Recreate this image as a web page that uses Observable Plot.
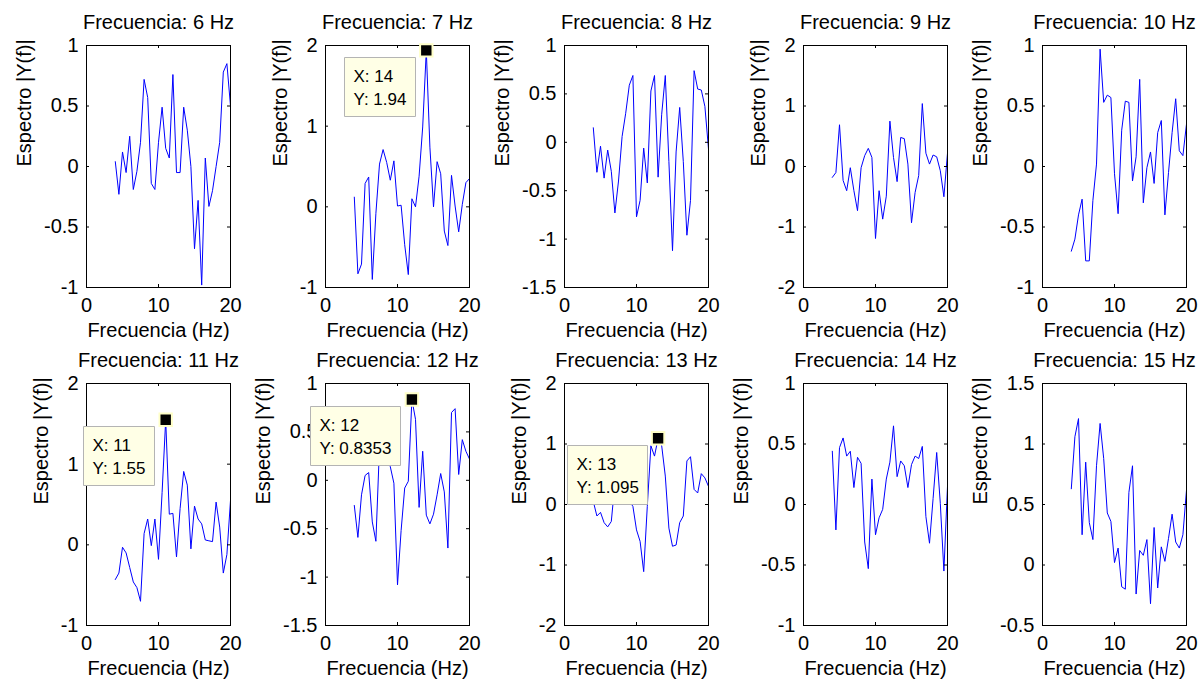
<!DOCTYPE html>
<html><head><meta charset="utf-8">
<script src="https://cdn.jsdelivr.net/npm/d3@7"></script>
<script src="https://cdn.jsdelivr.net/npm/@observablehq/plot@0.6"></script>
<style>
html,body{margin:0;padding:0;background:#fff;}
#fig{position:relative;width:1203px;height:680px;background:#fff;overflow:hidden;}
#fig svg{position:absolute;}
</style></head><body><div id="fig"></div>
<script>
// ---- data ----
const freqs = [4,4.5,5,5.5,6,6.5,7,7.5,8,8.5,9,9.5,10,10.5,11,11.5,12,12.5,13,13.5,14,14.5,15,15.5,16,16.5,17,17.5,18,18.5,19,19.5,20];
const panelHz = [6,7,8,9,10,11,12,13,14,15];
const s6  = [0.04,-0.23,0.12,-0.05,0.25,-0.19,-0.04,0.2,0.72,0.57,-0.14,-0.19,0.2,0.49,0.15,0.07,0.76,-0.05,-0.05,0.49,0.3,0.0,-0.68,-0.28,-0.98,0.07,-0.33,-0.2,0.0,0.2,0.78,0.85,0.5];
const s7  = [0.12,-0.83,-0.71,0.29,0.37,-0.9,-0.08,0.53,0.71,0.55,0.33,0.57,0.01,0.02,-0.47,-0.84,0.1,0.0,0.38,0.99,1.94,0.74,0.0,0.56,0.41,-0.3,-0.48,0.39,0.01,-0.31,0.03,0.3,0.35];
const s8  = [0.15,-0.31,-0.04,-0.37,-0.08,-0.3,-0.73,-0.4,0.06,0.3,0.59,0.69,-0.77,-0.6,-0.06,-0.42,0.53,0.69,-0.36,0.29,0.69,-0.2,-1.12,-0.1,0.36,-0.2,-0.96,-0.6,0.74,0.55,0.54,0.37,-0.07];
const s9  = [-0.18,-0.1,0.69,-0.23,-0.4,-0.02,-0.4,-0.73,-0.02,0.18,0.3,0.15,-1.19,-0.4,-0.87,-0.49,0.75,0.15,-0.25,0.48,0.46,0.04,-0.93,-0.43,-0.15,1.04,0.22,0.04,0.19,0.16,-0.07,-0.5,0.22];
const s10 = [-0.7,-0.6,-0.4,-0.27,-0.78,-0.78,-0.28,0.02,0.97,0.53,0.59,0.57,-0.06,-0.39,0.3,0.54,0.53,-0.12,0.08,0.72,-0.3,-0.01,0.12,-0.14,0.28,0.38,-0.4,-0.05,0.28,0.56,0.13,0.09,0.35];
const s11 = [-0.43,-0.35,-0.03,-0.1,-0.28,-0.46,-0.53,-0.7,0.14,0.32,-0.01,0.32,-0.18,0.65,1.55,0.38,0.39,-0.15,0.45,0.91,0.74,-0.05,0.48,0.32,0.26,0.06,0.05,0.04,0.53,0.22,-0.35,-0.12,0.55];
const s12 = [-0.26,-0.59,-0.15,0.05,0.08,-0.43,-0.63,0.35,0.6,0.3,0.14,-0.03,-1.08,-0.52,-0.08,-0.01,0.8353,0.63,-0.28,0.3,-0.36,-0.45,-0.35,-0.15,0.07,-0.12,-0.7,0.7,0.74,0.06,0.42,0.3,0.22];
const s13 = [0.05,-0.19,-0.13,-0.3,-0.37,-0.28,0.35,0.1,0.5,0.25,0.05,-0.03,-0.42,-0.61,-1.11,-0.03,0.97,0.8,1.095,0.97,0.47,-0.39,-0.69,-0.67,-0.3,-0.19,0.72,0.79,0.25,0.19,0.51,0.44,0.3];
const s14 = [0.44,-0.21,0.47,0.55,0.4,0.44,0.14,0.39,0.34,-0.31,-0.53,0.21,-0.25,-0.11,-0.04,0.21,0.35,0.65,0.23,0.36,0.32,0.14,0.33,0.4,0.38,0.48,-0.1,-0.32,0.05,0.43,0.01,-0.55,0.15];
const s15 = [0.63,1.06,1.21,0.25,0.85,0.35,0.21,0.82,1.17,0.88,0.43,0.36,0.02,0.14,-0.18,-0.2,0.6,0.82,-0.24,0.12,0.08,0.21,-0.32,0.31,-0.19,0.15,0.03,0.22,0.42,0.19,0.14,0.25,0.62];
const series = [s6,s7,s8,s9,s10,s11,s12,s13,s14,s15];
const yDomains = [[-1,1],[-1,2],[-1.5,1],[-2,2],[-1,1],[-1,2],[-1.5,1],[-2,2],[-1,1],[-0.5,1.5]];
const yTicks = [
  [-1,-0.5,0,0.5,1],[-1,0,1,2],[-1.5,-1,-0.5,0,0.5,1],[-2,-1,0,1,2],[-1,-0.5,0,0.5,1],
  [-1,0,1,2],[-1.5,-1,-0.5,0,0.5,1],[-2,-1,0,1,2],[-1,-0.5,0,0.5,1],[-0.5,0,0.5,1,1.5]
];
const xTicks = [0,10,20];
const tipHz = [7,11,12,13];
const tipX  = [14,11,12,13];
const tipY  = [1.94,1.55,0.8353,1.095];
const titlePrefix = "Frecuencia: ";
const xLabel = "Frecuencia (Hz)";
const yLabel = "Espectro |Y(f)|";

// ---- layout ----
const FONT = "'Liberation Sans', Arial, Helvetica, sans-serif";
const colStep = 239, rowStep = 340, boxW = 144, boxH = 242, mL = 86, mT = 45, tickLen = 3;
const rowTops = [0, 338];
const ctx = document.createElement("canvas").getContext("2d");
ctx.font = `20px ${FONT}`;
const fig = document.getElementById("fig");

panelHz.forEach((hz, i) => {
  const data = freqs.map((f, j) => ({f, v: series[i][j]}));
  const yt = yTicks[i];
  const labW = d3.max(yt, t => ctx.measureText(String(t)).width);
  const k = tipHz.indexOf(hz);
  const tips = k >= 0 ? [{x: tipX[k], y: tipY[k]}] : [];
  const marks = [
    Plot.line(data, {x: "f", y: "v", stroke: "#0000ff", strokeWidth: 1, clip: true}),
    Plot.frame({stroke: "black", strokeWidth: 1}),
    Plot.ruleX(xTicks, {x: d => d, insetTop: boxH - tickLen, stroke: "black"}),
    Plot.ruleX(xTicks, {x: d => d, insetBottom: boxH - tickLen, stroke: "black"}),
    Plot.ruleY(yt, {y: d => d, insetRight: boxW - tickLen, stroke: "black"}),
    Plot.ruleY(yt, {y: d => d, insetLeft: boxW - tickLen, stroke: "black"}),
    Plot.axisX({anchor: "bottom", ticks: xTicks, tickSize: 0, tickPadding: 10, tickFormat: d => String(d), label: null, fontSize: 20}),
    Plot.axisY({anchor: "left", ticks: yt, tickSize: 0, tickPadding: 8, tickFormat: d => String(d), label: null, fontSize: 20}),
    Plot.text([titlePrefix + hz + " Hz"], {frameAnchor: "top", lineAnchor: "top", dy: -31, text: d => d, fontSize: 20}),
    Plot.text([xLabel], {frameAnchor: "bottom", lineAnchor: "top", dy: 35, text: d => d, fontSize: 20}),
    Plot.text([yLabel], {frameAnchor: "left", rotate: -90, dx: -(8 + labW + 19), text: d => d, fontSize: 20})
  ];
  if (tips.length) {
    if (Plot.tip) {
      marks.push(Plot.tip(tips, {
        x: "x", y: "y", title: d => `X: ${d.x}\nY: ${d.y}`,
        anchor: "top-right", pointerSize: 0, pathFilter: "none",
        fill: "#ffffe6", stroke: "#b4b4b4", fontSize: 17, lineHeight: 1.3, textPadding: 9,
        dx: -11, dy: 7
      }));
    } else {
      marks.push(Plot.text(tips, {x: "x", y: "y", text: d => `X: ${d.x}\nY: ${d.y}`, textAnchor: "end", lineAnchor: "top", dx: -19, dy: 15, fontSize: 17}));
    }
    marks.push(Plot.dot(tips, {x: "x", y: "y", symbol: "square", r: 7, fill: "black", stroke: "#ffffc8", strokeWidth: 2}));
  }
  const svg = Plot.plot({
    width: colStep, height: rowStep,
    marginLeft: mL, marginRight: colStep - mL - boxW, marginTop: mT, marginBottom: rowStep - mT - boxH,
    x: {domain: [0, 20], axis: null},
    y: {domain: yDomains[i], axis: null},
    style: {fontFamily: FONT, fontSize: "20px", color: "black", background: "transparent", overflow: "visible"},
    marks
  });
  svg.style.position = "absolute";
  svg.style.left = (i % 5) * colStep + "px";
  svg.style.top = rowTops[Math.floor(i / 5)] + "px";
  fig.appendChild(svg);
});
</script></body></html>
